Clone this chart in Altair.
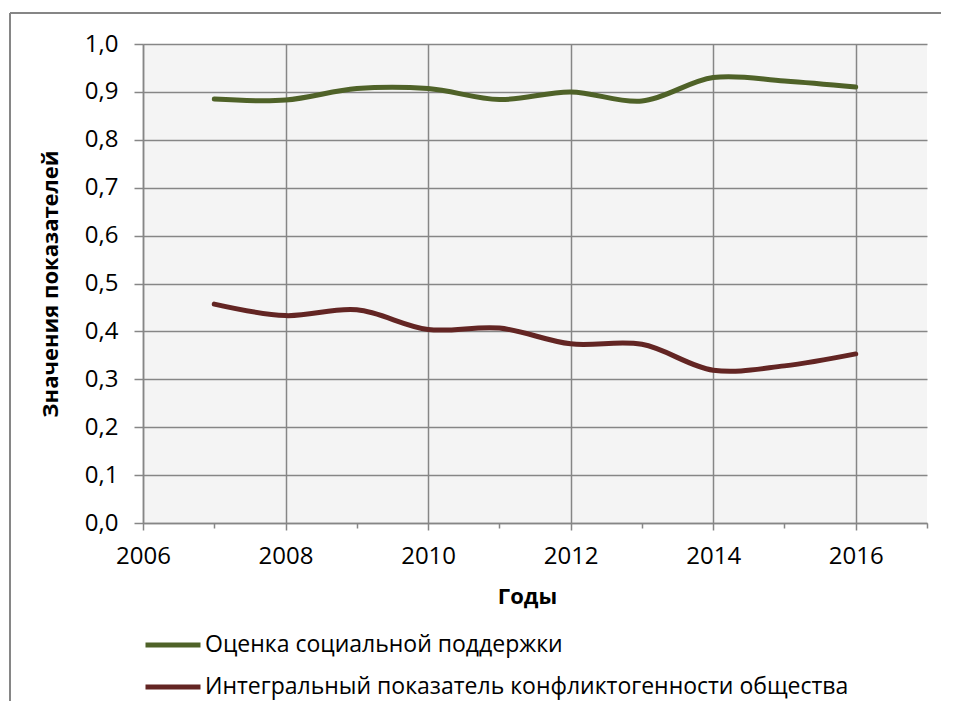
import altair as alt
import pandas as pd

years = [2007, 2008, 2009, 2010, 2011, 2012, 2013, 2014, 2015, 2016]
support = [0.885, 0.883, 0.907, 0.907, 0.884, 0.900, 0.881, 0.930, 0.923, 0.910]
conflict = [0.457, 0.433, 0.445, 0.404, 0.407, 0.374, 0.373, 0.319, 0.328, 0.353]
series_names = ["Оценка социальной поддержки",
                "Интегральный показатель конфликтогенности общества"]
colors = ["#4f6228", "#632523"]
x_major = [2006, 2008, 2010, 2012, 2014, 2016]
x_minor = [2007, 2009, 2011, 2013, 2015, 2017]
y_ticks = [0.0, 0.1, 0.2, 0.3, 0.4, 0.5, 0.6, 0.7, 0.8, 0.9, 1.0]

df = pd.DataFrame({
    "year": years + years,
    "value": support + conflict,
    "series": [series_names[0]] * len(years) + [series_names[1]] * len(years),
})

FONT = "Open Sans"
GRID = "#868686"
LW = 1.5

xscale = alt.Scale(domain=[2006, 2017], nice=False, zero=False)
yscale = alt.Scale(domain=[0, 1], nice=False, zero=True)

lines = alt.Chart(df).mark_line(
    strokeWidth=5, interpolate="catmull-rom", strokeCap="round", strokeJoin="round"
).encode(
    x=alt.X("year:Q", scale=xscale, axis=alt.Axis(
        values=x_major, format="d", title="Годы", orient="bottom",
        grid=True, gridColor=GRID, gridWidth=LW, gridOpacity=1,
        domainColor=GRID, domainWidth=LW, tickColor=GRID, tickWidth=LW, tickSize=7,
        labelFont=FONT, labelFontSize=24, labelColor="black", labelPadding=14,
        titleFont=FONT, titleFontSize=22, titleFontWeight="bold", titleColor="black",
        titlePadding=18, titleX=384, labelFlush=False, labelOverlap=False)),
    y=alt.Y("value:Q", scale=yscale, axis=alt.Axis(
        values=y_ticks, labelExpr="replace(format(datum.value, '.1f'), '.', ',')",
        title="Значения показателей",
        grid=True, gridColor=GRID, gridWidth=LW, gridOpacity=1,
        domainColor=GRID, domainWidth=LW, tickColor=GRID, tickWidth=LW, tickSize=9,
        labelFont=FONT, labelFontSize=24, labelColor="black", labelPadding=16,
        titleFont=FONT, titleFontSize=22, titleFontWeight="bold", titleColor="black",
        titlePadding=22, labelFlush=False, labelOverlap=False)),
    color=alt.Color("series:N", scale=alt.Scale(domain=series_names, range=colors),
                    legend=alt.Legend(
                        title=None, orient="none", legendX=0, legendY=571,
                        direction="vertical", symbolType="stroke",
                        symbolSize=3025, symbolStrokeWidth=5, rowPadding=0,
                        labelFont=FONT, labelFontSize=23, labelColor="black",
                        labelOffset=2, labelLimit=1000, padding=0)),
)

minor = alt.Chart(pd.DataFrame({"year": x_minor})).mark_point(opacity=0).encode(
    x=alt.X("year:Q", scale=xscale, axis=alt.Axis(
        values=x_minor, labels=False, grid=False, domain=False, orient="bottom",
        tickColor=GRID, tickWidth=LW, tickSize=5, title=None))
)

frame_df = pd.DataFrame({"k": [0]})
frame_top = alt.Chart(frame_df).mark_rule(color=GRID, strokeWidth=2).encode(
    x=alt.value(-133), x2=alt.value(798), y=alt.value(-31), y2=alt.value(-31))
frame_left = alt.Chart(frame_df).mark_rule(color=GRID, strokeWidth=2).encode(
    x=alt.value(-133), x2=alt.value(-133), y=alt.value(-31), y2=alt.value(657))

chart = alt.layer(frame_top, frame_left, lines, minor).resolve_scale(
    x="independent").resolve_axis(x="independent").properties(
    width=784, height=479,
    padding={"left": 135, "top": 36, "right": 22, "bottom": 178},
    autosize=alt.AutoSizeParams(type="none"),
    background="white",
).configure_view(fill="#f4f4f4", stroke=None)

chart.save("out.html", embed_options={"renderer": "svg", "actions": False})
